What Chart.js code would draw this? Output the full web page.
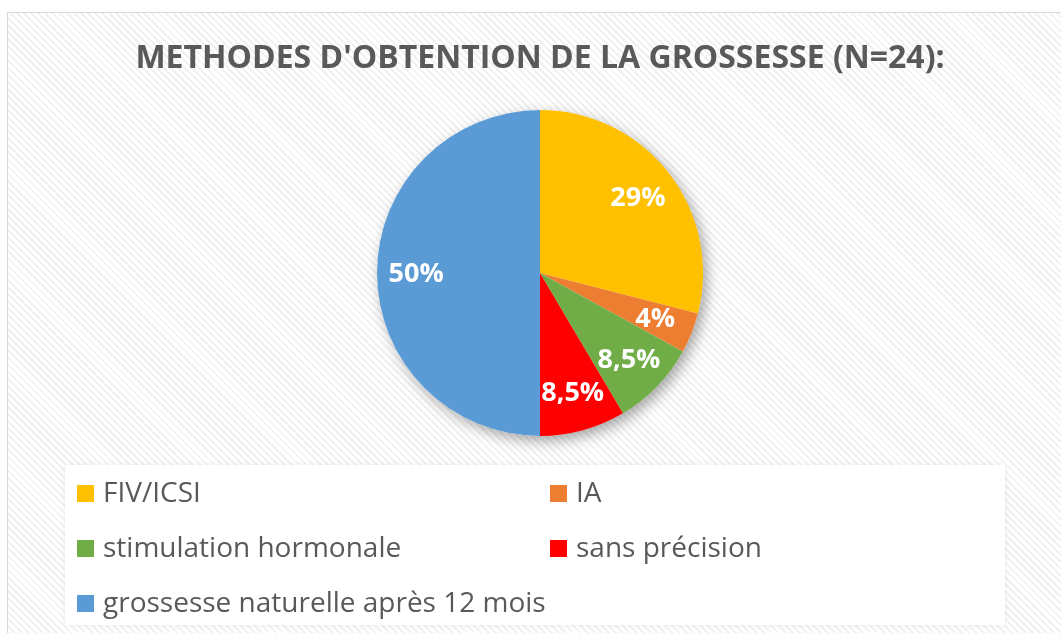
<!DOCTYPE html>
<html>
<head>
<meta charset="utf-8">
<script src="https://cdn.jsdelivr.net/npm/chart.js@4"></script>
<style>
    html, body { margin: 0; padding: 0; background: #fff; }
    #frame {
        position: absolute; left: 7px; top: 12px; width: 1070px; height: 640px;
        border: 1px solid #d9d9d9;
        background: repeating-linear-gradient(45deg, #ffffff 0px, #ffffff 3px, #f1f1f1 3px, #f1f1f1 5px);
    }
    #wrap { position: absolute; left: 0; top: 0; width: 1061px; height: 633px; }
</style>
</head>
<body>
<div id="frame"></div>
<div id="wrap"><canvas id="myChart" width="1061" height="633"></canvas></div>
<script>
const labels = ['FIV/ICSI', 'IA', 'stimulation hormonale', 'sans précision', 'grossesse naturelle après 12 mois'];
const values = [29, 4, 8.5, 8.5, 50];
const valueLabels = ['29%', '4%', '8,5%', '8,5%', '50%'];
const colors = ['#FFC000', '#ED7D31', '#70AD47', '#FF0000', '#5B9BD5'];

// soft shadow under the pie
const pieShadow = {
    id: 'pieShadow',
    beforeDatasetsDraw(chart) {
        const arc = chart.getDatasetMeta(0).data[0];
        if (!arc) return;
        const ctx = chart.ctx;
        ctx.save();
        ctx.shadowColor = 'rgba(0,0,0,0.35)';
        ctx.shadowBlur = 14;
        ctx.shadowOffsetX = 4;
        ctx.shadowOffsetY = 5;
        ctx.fillStyle = '#ffffff';
        ctx.beginPath();
        ctx.arc(arc.x, arc.y, arc.outerRadius, 0, Math.PI * 2);
        ctx.fill();
        ctx.restore();
    }
};

// percentage labels inside slices
const sliceLabels = {
    id: 'sliceLabels',
    afterDatasetsDraw(chart) {
        const ctx = chart.ctx;
        const meta = chart.getDatasetMeta(0);
        ctx.save();
        ctx.fillStyle = '#ffffff';
        ctx.font = 'bold 27px "Open Sans"';
        ctx.textAlign = 'center';
        ctx.textBaseline = 'middle';
        meta.data.forEach(function (arc, i) {
            const mid = (arc.startAngle + arc.endAngle) / 2;
            const r = arc.outerRadius * 0.76;
            ctx.fillText(valueLabels[i], arc.x + Math.cos(mid) * r, arc.y + Math.sin(mid) * r + 1);
        });
        ctx.restore();
    }
};

// two column legend in a white box
const boxLegend = {
    id: 'boxLegend',
    afterDraw(chart) {
        const ctx = chart.ctx;
        ctx.save();
        ctx.shadowColor = 'rgba(0,0,0,0.08)';
        ctx.shadowBlur = 6;
        ctx.fillStyle = '#ffffff';
        ctx.fillRect(65, 465, 940, 160);
        ctx.restore();

        ctx.save();
        ctx.font = '28px "Open Sans"';
        ctx.textBaseline = 'middle';
        labels.forEach(function (lab, i) {
            const col = i % 2;
            const row = Math.floor(i / 2);
            const x = 77 + col * 473;
            const y = 493 + row * 55;
            ctx.fillStyle = colors[i];
            ctx.fillRect(x, y - 8, 17, 17);
            ctx.fillStyle = '#595959';
            ctx.fillText(lab, x + 26, y + 1);
        });
        ctx.restore();
    }
};

const data = {
    labels: labels,
    datasets: [{
        data: values,
        backgroundColor: colors,
        borderWidth: 0
    }]
};

const config = {
    type: 'pie',
    data: data,
    options: {
        responsive: false,
        animation: false,
        layout: {
            padding: { top: 0, left: 19, right: 0, bottom: 197 }
        },
        plugins: {
            legend: { display: false },
            tooltip: { enabled: false },
            title: {
                display: true,
                text: "METHODES D'OBTENTION DE LA GROSSESSE (N=24):",
                color: '#595959',
                font: { family: 'Open Sans', size: 32, weight: 'bold', lineHeight: 1.2 },
                padding: { top: 40, bottom: 31.6 }
            }
        }
    },
    plugins: [pieShadow, sliceLabels, boxLegend]
};

const myChart = new Chart(document.getElementById('myChart'), config);
</script>
</body>
</html>
